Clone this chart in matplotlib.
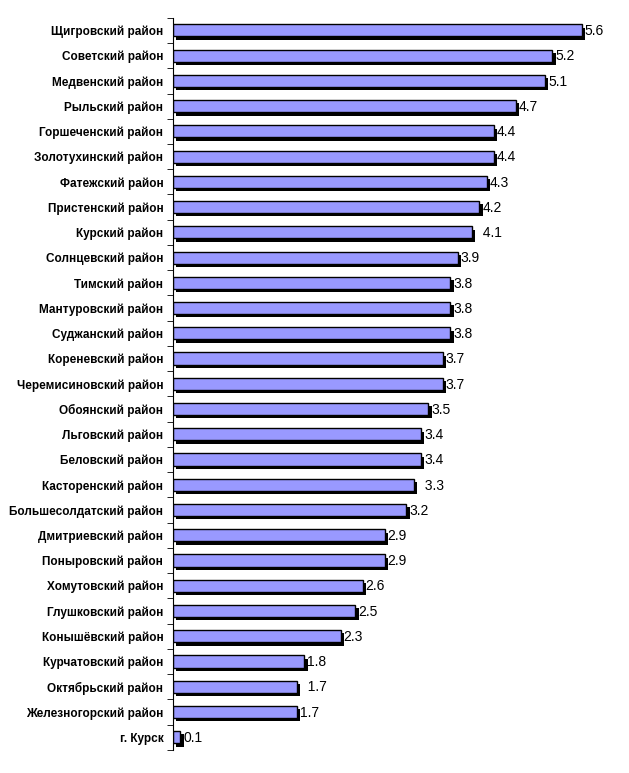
import matplotlib
matplotlib.use("Agg")
import matplotlib.pyplot as plt
import matplotlib.patheffects as pe
import numpy as np

plt.rcParams['font.family'] = ['Liberation Sans', 'DejaVu Sans']

districts = ["Щигровский район", "Советский район", "Медвенский район", "Рыльский район",
             "Горшеченский район", "Золотухинский район", "Фатежский район", "Пристенский район",
             "Курский район", "Солнцевский район", "Тимский район", "Мантуровский район",
             "Суджанский район", "Кореневский район", "Черемисиновский район", "Обоянский район",
             "Льговский район", "Беловский район", "Касторенский район", "Большесолдатский район",
             "Дмитриевский район", "Поныровский район", "Хомутовский район", "Глушковский район",
             "Конышёвский район", "Курчатовский район", "Октябрьский район", "Железногорский район",
             "г. Курск"]
values = [5.6, 5.2, 5.1, 4.7, 4.4, 4.4, 4.3, 4.2, 4.1, 3.9, 3.8, 3.8, 3.8, 3.7, 3.7, 3.5,
          3.4, 3.4, 3.3, 3.2, 2.9, 2.9, 2.6, 2.5, 2.3, 1.8, 1.7, 1.7, 0.1]
value_labels = ["5.6", "5.2", "5.1", "4.7", "4.4", "4.4", "4.3", "4.2", "  4.1", "3.9", "3.8",
                "3.8", "3.8", "3.7", "3.7", "3.5", "3.4", "3.4", "  3.3", "3.2", "2.9", "2.9",
                "2.6", "2.5", "2.3", "1.8", "  1.7", "1.7", "0.1"]

fig = plt.figure(figsize=(6.29, 7.73), dpi=100)
ax = fig.add_axes([0.275, 0.030, 0.696, 0.947])

y = np.arange(len(values))
bars = ax.barh(y, values, height=0.48, color="#9999FF", edgecolor="black", linewidth=1)
for b in bars:
    b.set_path_effects([pe.SimplePatchShadow(offset=(2.4, -2.4), shadow_rgbFace="black", alpha=1),
                        pe.Normal()])

for yi, v, lab in zip(y, values, value_labels):
    ax.text(v + 0.04, yi + 0.03, lab, va="center", ha="left", fontsize=10)

ax.set_xlim(0, 6)
ax.set_ylim(len(values) - 0.5, -0.5)
ax.set_yticks(y)
ax.set_yticklabels(districts, fontsize=8.5, fontweight="bold")
ax.set_yticks(np.arange(len(values) + 1) - 0.5, minor=True)
ax.tick_params(axis="y", which="major", length=0, pad=7)
ax.tick_params(axis="y", which="minor", length=4, direction="out")
ax.set_xticks([])
for s in ["top", "right", "bottom"]:
    ax.spines[s].set_visible(False)

plt.savefig("out.png", dpi=100)
